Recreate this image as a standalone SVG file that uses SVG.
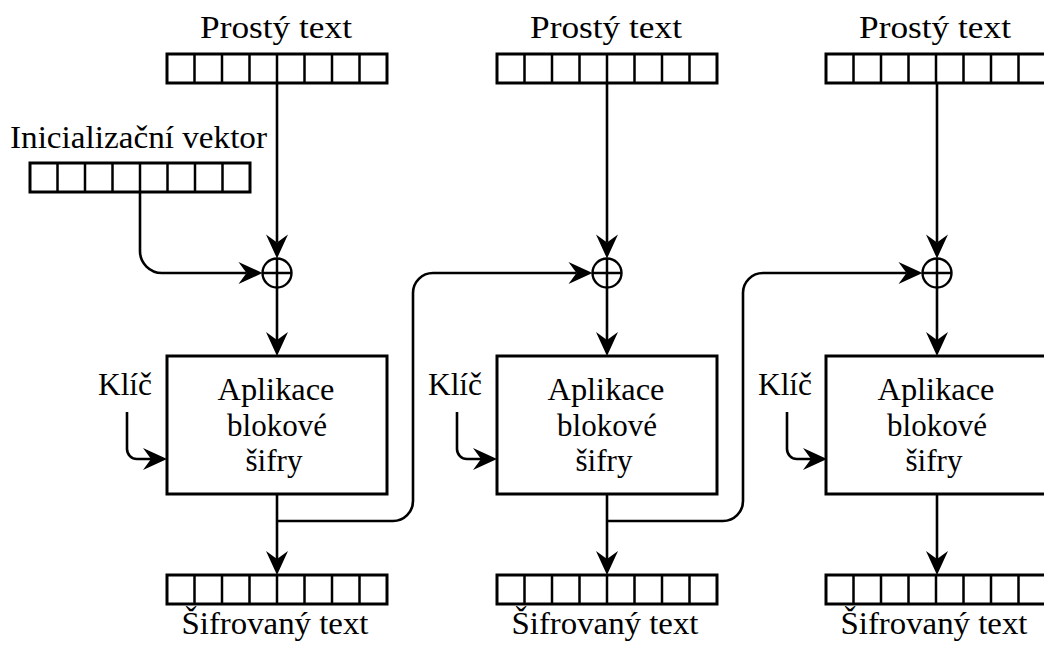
<svg xmlns="http://www.w3.org/2000/svg" width="1044" height="649" viewBox="0 0 1044 649">
  <style>
    .reg { fill: #fff; stroke: #000; stroke-width: 3; }
    .cell { stroke: #000; stroke-width: 2.5; fill: none; }
    .box { fill: #fff; stroke: #000; stroke-width: 3; }
    .wire { fill: none; stroke: #000; stroke-width: 2.6; }
    .xor { fill: #fff; stroke: #000; stroke-width: 2.4; }
    .lbl { font-family: "Liberation Serif", "DejaVu Serif", serif; font-size: 31px; fill: #000; text-anchor: middle; }
  </style>
  <defs>
    <marker id="stealth" markerUnits="userSpaceOnUse" viewBox="-25 -12 26 24" markerWidth="26" markerHeight="24" refX="-16" refY="0" orient="auto">
      <path d="M0,0 L-24,-11 L-16,0 L-24,11 Z" fill="#000"/>
    </marker>
    <!-- 8-cell register, 220 wide, 29 tall -->
    <g id="register">
      <rect class="reg" x="0" y="0" width="220" height="29"/>
      <path class="cell" d="M27.5,0V29M55,0V29M82.5,0V29M110,0V29M137.5,0V29M165,0V29M192.5,0V29"/>
    </g>
    <g id="xorSym">
      <circle class="xor" cx="0" cy="0" r="14.5"/>
      <path class="cell" stroke-width="2" d="M-14.5,0H14.5M0,-14.5V14.5"/>
    </g>
  </defs>

  <!-- connectors -->
  <g id="connectors" class="wire" marker-end="url(#stealth)">
    <!-- plaintext to XOR -->
    <path d="M277,83V242.5"/>
    <path d="M607,83V242.5"/>
    <path d="M937,83V242.5"/>
    <!-- XOR to cipher block -->
    <path d="M277,287.5V340"/>
    <path d="M607,287.5V340"/>
    <path d="M937,287.5V340"/>
    <!-- cipher block to ciphertext -->
    <path d="M277,494V559"/>
    <path d="M607,494V559"/>
    <path d="M937,494V559"/>
    <!-- initialization vector into first XOR -->
    <path d="M140,192V251A22,22 0 0 0 162,273H246.5"/>
    <!-- chaining: ciphertext feeds next XOR -->
    <path d="M277,521H393A20,20 0 0 0 413,501V293A20,20 0 0 1 433,273H576.5"/>
    <path d="M607,521H723A20,20 0 0 0 743,501V293A20,20 0 0 1 763,273H906.5"/>
    <!-- key inputs -->
    <path d="M127,412V449A10,10 0 0 0 137,459H151"/>
    <path d="M457,412V449A10,10 0 0 0 467,459H481"/>
    <path d="M787,412V449A10,10 0 0 0 797,459H811"/>
  </g>

  <!-- initialization vector -->
  <g id="iv">
    <text class="lbl" x="138.5" y="148" textLength="257" lengthAdjust="spacingAndGlyphs">Inicializační vektor</text>
    <use href="#register" x="30" y="163"/>
  </g>

  <!-- stage 1 -->
  <g id="plain1">
    <text class="lbl" x="276" y="38" textLength="152" lengthAdjust="spacingAndGlyphs">Prostý text</text>
    <use href="#register" x="167" y="54"/>
  </g>
  <g id="xor1"><use href="#xorSym" x="277" y="273"/></g>
  <g id="key1"><text class="lbl" x="125" y="395" textLength="54" lengthAdjust="spacingAndGlyphs">Klíč</text></g>
  <g id="block1">
    <rect class="box" x="167" y="356" width="220" height="138"/>
    <text class="lbl" x="276" y="400" textLength="117" lengthAdjust="spacingAndGlyphs">Aplikace</text>
    <text class="lbl" x="277" y="436" textLength="100" lengthAdjust="spacingAndGlyphs">blokové</text>
    <text class="lbl" x="274" y="471" textLength="57" lengthAdjust="spacingAndGlyphs">šifry</text>
  </g>
  <g id="cipher1">
    <use href="#register" x="167" y="575"/>
    <text class="lbl" x="275" y="634" textLength="187" lengthAdjust="spacingAndGlyphs">Šifrovaný text</text>
  </g>

  <!-- stage 2 -->
  <g id="plain2">
    <text class="lbl" x="606" y="38" textLength="152" lengthAdjust="spacingAndGlyphs">Prostý text</text>
    <use href="#register" x="497" y="54"/>
  </g>
  <g id="xor2"><use href="#xorSym" x="607" y="273"/></g>
  <g id="key2"><text class="lbl" x="455" y="395" textLength="54" lengthAdjust="spacingAndGlyphs">Klíč</text></g>
  <g id="block2">
    <rect class="box" x="497" y="356" width="220" height="138"/>
    <text class="lbl" x="606" y="400" textLength="117" lengthAdjust="spacingAndGlyphs">Aplikace</text>
    <text class="lbl" x="607" y="436" textLength="100" lengthAdjust="spacingAndGlyphs">blokové</text>
    <text class="lbl" x="604" y="471" textLength="57" lengthAdjust="spacingAndGlyphs">šifry</text>
  </g>
  <g id="cipher2">
    <use href="#register" x="497" y="575"/>
    <text class="lbl" x="605" y="634" textLength="187" lengthAdjust="spacingAndGlyphs">Šifrovaný text</text>
  </g>

  <!-- stage 3 -->
  <g id="plain3">
    <text class="lbl" x="935" y="38" textLength="152" lengthAdjust="spacingAndGlyphs">Prostý text</text>
    <use href="#register" x="826" y="54"/>
  </g>
  <g id="xor3"><use href="#xorSym" x="937" y="273"/></g>
  <g id="key3"><text class="lbl" x="785" y="395" textLength="54" lengthAdjust="spacingAndGlyphs">Klíč</text></g>
  <g id="block3">
    <rect class="box" x="826" y="356" width="220" height="138"/>
    <text class="lbl" x="936" y="400" textLength="117" lengthAdjust="spacingAndGlyphs">Aplikace</text>
    <text class="lbl" x="937" y="436" textLength="100" lengthAdjust="spacingAndGlyphs">blokové</text>
    <text class="lbl" x="934" y="471" textLength="57" lengthAdjust="spacingAndGlyphs">šifry</text>
  </g>
  <g id="cipher3">
    <use href="#register" x="826" y="575"/>
    <text class="lbl" x="934" y="634" textLength="187" lengthAdjust="spacingAndGlyphs">Šifrovaný text</text>
  </g>
</svg>
